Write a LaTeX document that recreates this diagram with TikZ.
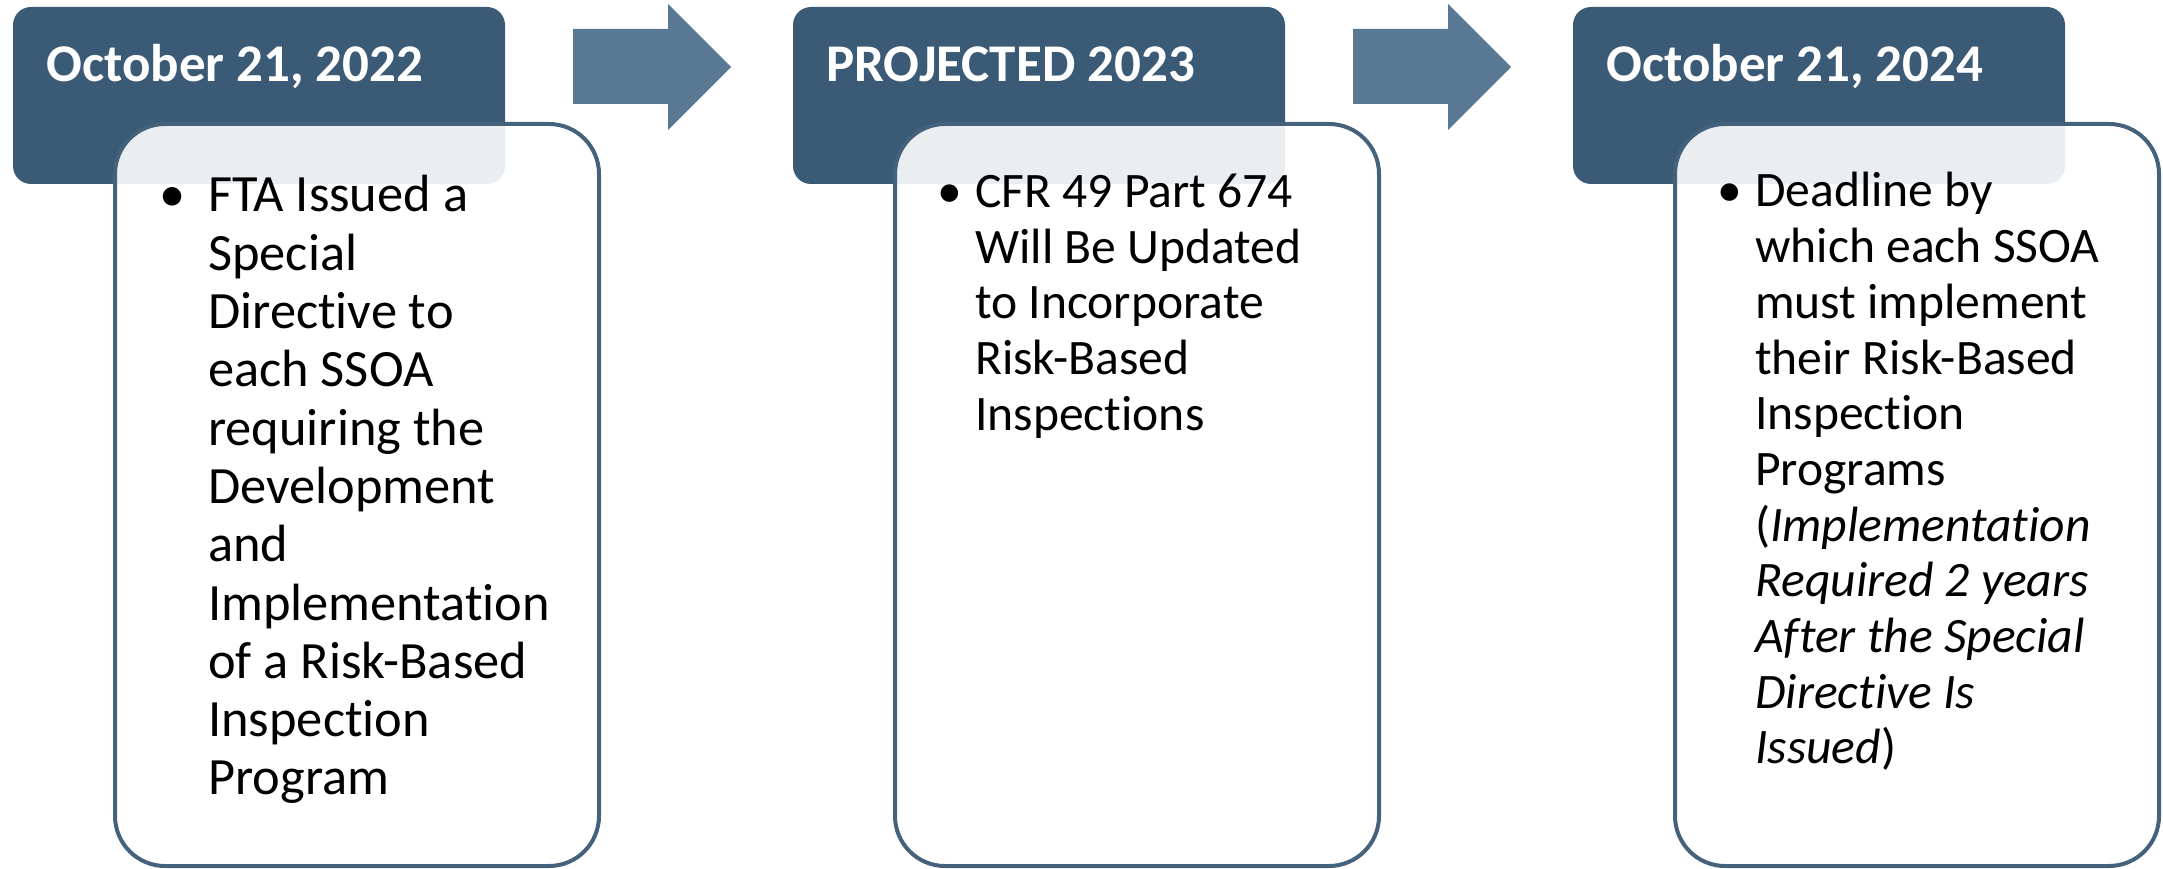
\documentclass[tikz,border=0pt]{standalone}
\usepackage{fontspec}
\setmainfont{Carlito}[Ligatures={NoCommon,NoRare,NoDiscretionary}]
\definecolor{hdr}{RGB}{59,90,118}
\definecolor{arw}{RGB}{89,120,148}
\definecolor{bdr}{RGB}{69,98,125}
\newcommand{\bul}[1]{\leavevmode\llap{\makebox[#1][l]{\makebox[0pt][c]{\textbullet}}}}
\begin{document}
\begin{tikzpicture}[x=1pt,y=-1pt,
  hdrbox/.style={fill=hdr, rounded corners=18pt},
  bodybox/.style={draw=bdr, line width=4pt, fill=white, fill opacity=0.9, rounded corners=50pt},
  blockarrow/.style={fill=arw},
  hdrtext/.style={anchor=base west, inner sep=0pt, text=white, font=\fontsize{53}{60}\selectfont\bfseries},
  bodytext/.style={anchor=base west, inner sep=0pt, text=black}]
\useasboundingbox (0,0) rectangle (2163,869);
% panel 1
\fill[hdrbox] (13,7) rectangle (505,184);
\draw[bodybox] (115,124) rectangle (599,866);
\node[hdrtext] (h1) at (46,82) {October 21, 2022};
\node[bodytext] (b1) at (208,212) {\parbox[t]{380pt}{\fontsize{52.4}{58.3}\selectfont\raggedright
\bul{36pt}FTA Issued a\\Special\\Directive to\\each SSOA\\requiring the\\Development\\and\\Implementation\\of a Risk-Based\\Inspection\\Program}};
% panel 2
\fill[hdrbox] (793,7) rectangle (1285,184);
\draw[bodybox] (895,124) rectangle (1379,866);
\node[hdrtext] (h2) at (826,82) {PROJECTED 2023};
\node[bodytext] (b2) at (975,208) {\parbox[t]{380pt}{\fontsize{49.6}{55.5}\selectfont\raggedright
\bul{25pt}CFR 49 Part 674\\Will Be Updated\\to Incorporate\\Risk-Based\\Inspections}};
% panel 3
\fill[hdrbox] (1573,7) rectangle (2065,184);
\draw[bodybox] (1675,124) rectangle (2159,866);
\node[hdrtext] (h3) at (1606,82) {October 21, 2024};
\node[bodytext] (b3) at (1755,207) {\parbox[t]{380pt}{\fontsize{49.6}{55.7}\selectfont\raggedright
\bul{25pt}Deadline by\\which each SSOA\\must implement\\their Risk-Based\\Inspection\\Programs\\(\textit{Implementation}\\\textit{Required 2 years}\\\textit{After the Special}\\\textit{Directive Is}\\\textit{Issued})}};
% arrows
\fill[blockarrow] (573,29) -- (668,29) -- (668,4) -- (731,67) -- (668,130) -- (668,104) -- (573,104) -- cycle;
\fill[blockarrow] (1353,29) -- (1448,29) -- (1448,4) -- (1511,67) -- (1448,130) -- (1448,104) -- (1353,104) -- cycle;
\end{tikzpicture}
\end{document}
